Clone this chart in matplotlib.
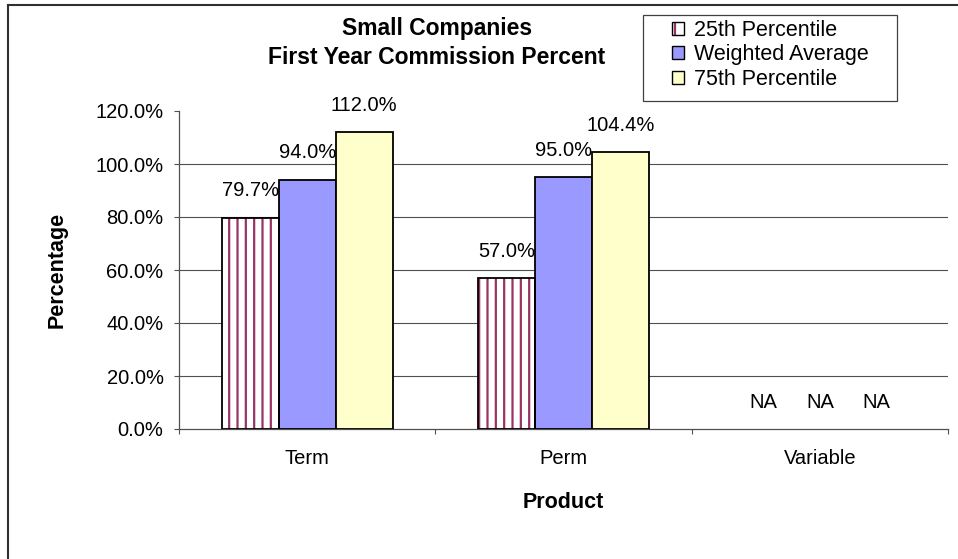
import numpy as np
import matplotlib
matplotlib.use("Agg")
import matplotlib.pyplot as plt
from matplotlib.patches import Rectangle, Patch
from matplotlib.lines import Line2D

# data (percent); NaN = "NA"
products = ['Term', 'Perm', 'Variable']
series = ['25th Percentile', 'Weighted Average', '75th Percentile']
p25 = [79.7, 57.0, np.nan]
wavg = [94.0, 95.0, np.nan]
p75 = [112.0, 104.4, np.nan]
yticks = [0, 20, 40, 60, 80, 100, 120]

plt.rcParams['font.family'] = ['Liberation Sans', 'DejaVu Sans']
plt.rcParams['hatch.linewidth'] = 1.6

W, H = 958, 559
fig = plt.figure(figsize=(W / 100, H / 100), dpi=100)
ax = fig.add_axes([179 / W, 1 - 429 / H, (948 - 179) / W, (429 - 111) / H])

x = np.arange(len(products))
bw = 0.222
grid_col = '#505050'

vals = [p25, wavg, p75]
faces = ['white', '#9999FF', '#FFFFCC']
handles = []
for i, (v, fc) in enumerate(zip(vals, faces)):
	v = np.array(v, dtype=float)
	xs = x + (i - 1) * bw
	ok = ~np.isnan(v)
	if i == 0:
		ax.bar(xs[ok], v[ok], bw, color='white', edgecolor='#993366', hatch='||', linewidth=0, zorder=3)
		ax.bar(xs[ok], v[ok], bw, fill=False, edgecolor='black', linewidth=1.3, zorder=4)
		handles.append((Patch(facecolor='white', edgecolor='#993366', hatch='|', linewidth=0),
						Patch(fill=False, edgecolor='black', linewidth=1.0)))
	else:
		ax.bar(xs[ok], v[ok], bw, color=fc, edgecolor='black', linewidth=1.3, zorder=3)
		handles.append(Patch(facecolor=fc, edgecolor='black', linewidth=1.0))
	for xi, vi in zip(xs, v):
		lab = 'NA' if np.isnan(vi) else '%.1f%%' % vi
		ax.annotate(lab, (xi, np.nan_to_num(vi)), xytext=(0, 19.4), textcoords='offset points',
					ha='center', va='center', fontsize=14.5, zorder=5)

ax.set_xlim(-0.5, len(products) - 0.5)
ax.set_ylim(0, 120)
ax.set_yticks(yticks)
ax.set_yticklabels(['%.1f%%' % t for t in yticks], fontsize=14.5)
ax.set_xticks(np.arange(len(products) + 1) - 0.5)
ax.set_xticklabels([])
ax.set_xticks(x, products, minor=True, fontsize=14.5)
ax.tick_params(axis='x', which='minor', length=0, pad=14.4)
ax.tick_params(axis='both', which='major', direction='out', length=3.6, width=0.8, color=grid_col)
ax.tick_params(axis='y', pad=7.5)

ax.grid(axis='y', color=grid_col, linewidth=0.8, zorder=0)
gl = ax.yaxis.get_gridlines()
gl[0].set_visible(False)
gl[-1].set_visible(False)
for s in ['top', 'right']:
	ax.spines[s].set_visible(False)
for s in ['left', 'bottom']:
	ax.spines[s].set_color(grid_col)
	ax.spines[s].set_linewidth(0.9)
ax.set_axisbelow(True)

ax.set_ylabel('Percentage', fontsize=15.5, fontweight='bold', va='center')
ax.yaxis.set_label_coords((57 - 179) / (948 - 179), 0.5)
ax.set_xlabel('Product', fontsize=15.5, fontweight='bold', va='center')
ax.xaxis.set_label_coords(0.5, (429 - 502) / (429 - 111))

fig.text(437 / W, 1 - 28 / H, 'Small Companies', ha='center', va='center', fontsize=16.5, fontweight='bold')
fig.text(437 / W, 1 - 58 / H, 'First Year Commission Percent', ha='center', va='center', fontsize=16.5, fontweight='bold')

# legend with its own box
fig.add_artist(Rectangle((643 / W, 1 - 101 / H), (897 - 643) / W, (101 - 15) / H,
						 transform=fig.transFigure, facecolor='white', edgecolor='#404040', linewidth=0.9, zorder=2))
leg = fig.legend(handles, series, loc='upper left', bbox_to_anchor=(672 / W, 1 - 20 / H),
				 frameon=False, fontsize=15.5, handlelength=0.55, handleheight=0.55,
				 handletextpad=0.45, labelspacing=0.16, borderpad=0, borderaxespad=0)
leg.set_zorder(3)

# chart area frame (left and top edges visible)
fig.add_artist(Line2D([8 / W, 8 / W], [0, 1 - 5 / H], transform=fig.transFigure, color='#303030', linewidth=1.5))
fig.add_artist(Line2D([8 / W, 1], [1 - 5 / H, 1 - 5 / H], transform=fig.transFigure, color='#303030', linewidth=1.5))

fig.savefig('out.png', dpi=100)
